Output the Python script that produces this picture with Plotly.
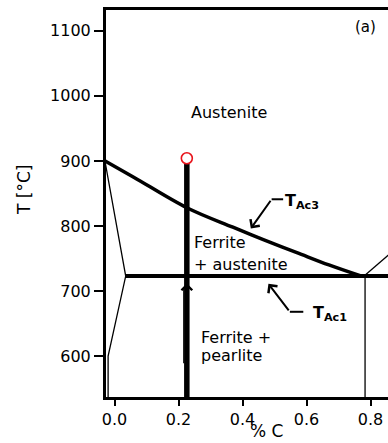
import plotly.graph_objects as go

# Ac3 boundary: carbon content (wt%) vs temperature (°C)
ac3_c = [-0.03, 0.06, 0.226, 0.37, 0.465, 0.57, 0.67, 0.77]
ac3_t = [900, 875, 828, 798, 779, 759, 740, 723]

# Ac1 eutectoid isotherm
ac1_c = [0.035, 0.86]
ac1_t = [723, 723]

# ferrite solubility boundary at low carbon
alpha_c = [-0.03, 0.035, -0.02, -0.02]
alpha_t = [900, 723, 600, 537]

# Acm boundary above the eutectoid point
acm_c = [0.78, 0.86]
acm_t = [723, 757]

# eutectoid composition below the isotherm
eut_c = [0.783, 0.783]
eut_t = [537, 723]

# steel composition path and its austenitising end point
steel_c = [0.226, 0.226]
steel_t = [537, 900]
start_c = [0.226]
start_t = [904]

# heating direction: thin stem beside the path, head on the path
heat_c = 0.2165
heat_t = [589, 706]
head_t = [700, 712]

# leader lines for the T_Ac3 and T_Ac1 labels
lead3_c = [0.527, 0.491, 0.426]
lead3_t = [841, 841, 796]
lead1_c = [0.59, 0.548, 0.481]
lead1_t = [668, 668, 711]

x_ticks = [0.0, 0.2, 0.4, 0.6, 0.8]
x_ticklabels = ["0.0", "0.2", "0.4", "0.6", "0.8"]
y_ticks = [600, 700, 800, 900, 1000, 1100]
y_ticklabels = ["600", "700", "800", "900", "1000", "1100"]

FONT = "DejaVu Sans"
W, H = 388, 443
ML, MR, MT, MB = 106, 0, 10, 46

fig = go.Figure()


def line(xs, ys, width, shape="linear"):
    fig.add_trace(go.Scatter(x=xs, y=ys, mode="lines",
                             line=dict(color="black", width=width, shape=shape),
                             showlegend=False, hoverinfo="skip"))


line(alpha_c, alpha_t, 1.3)
line(acm_c, acm_t, 1.3)
line(eut_c, eut_t, 1.3)
line(ac1_c, ac1_t, 4)
line(ac3_c, ac3_t, 3.5, shape="spline")
line(steel_c, steel_t, 5.5)
line([heat_c, heat_c], heat_t, 1.3)
line(lead3_c[:2], lead3_t[:2], 2)
line(lead1_c[:2], lead1_t[:2], 2)
fig.add_trace(go.Scatter(x=start_c, y=start_t, mode="markers",
                         marker=dict(symbol="circle", size=11, color="white",
                                     line=dict(color="#e8131b", width=1.6)),
                         showlegend=False, hoverinfo="skip"))

annotations = []


def arrow(x0, y0, x1, y1, width, size=1.1):
    annotations.append(dict(x=x1, y=y1, ax=x0, ay=y0, xref="x", yref="y",
                            axref="x", ayref="y", text="", showarrow=True,
                            arrowhead=4, arrowsize=size, arrowwidth=width,
                            arrowcolor="black"))


arrow(steel_c[0], head_t[0], steel_c[0], head_t[1], 1.3, size=1.6)
arrow(lead3_c[1], lead3_t[1], lead3_c[2], lead3_t[2], 2)
arrow(lead1_c[1], lead1_t[1], lead1_c[2], lead1_t[2], 2)


def text(x, y, s, size=16, xanchor="center", xref="x", yref="y", angle=0):
    annotations.append(dict(x=x, y=y, xref=xref, yref=yref, text=s,
                            showarrow=False, xanchor=xanchor, yanchor="middle",
                            textangle=angle,
                            font=dict(family=FONT, size=size, color="black")))


text(0.359, 975, "Austenite")
text(0.243, 775, "Ferrite", xanchor="left")
text(0.243, 741, "+ austenite", xanchor="left")
text(0.265, 629, "Ferrite +", xanchor="left")
text(0.265, 601, "pearlite", xanchor="left")
text(0.783, 1106, "(a)", size=15)
text(0.527, 838, "<b>T<sub>Ac3</sub></b>", size=16, xanchor="left")
text(0.613, 665, "<b>T<sub>Ac1</sub></b>", size=16, xanchor="left")

pw, ph = W - ML - MR, H - MT - MB
text((266 - ML) / pw, (H - MB - 431) / ph, "% C", size=17, xref="paper", yref="paper")
text((24 - ML) / pw, (H - MB - 190) / ph, "T [°C]", size=17, xref="paper", yref="paper", angle=-90)

fig.update_layout(
    width=W, height=H,
    margin=dict(l=ML, r=MR, t=MT, b=MB, pad=0),
    paper_bgcolor="white", plot_bgcolor="white",
    font=dict(family=FONT, size=16, color="black"),
    annotations=annotations,
    xaxis=dict(range=[-0.0266, 0.8547], showgrid=False, zeroline=False,
               showline=True, linecolor="black", linewidth=2.5, mirror=True,
               ticks="outside", ticklen=6, tickwidth=1.5, tickcolor="black",
               tickvals=x_ticks, ticktext=x_ticklabels,
               tickfont=dict(family=FONT, size=16)),
    yaxis=dict(range=[537, 1132], showgrid=False, zeroline=False,
               showline=True, linecolor="black", linewidth=3, mirror=False,
               ticks="outside", ticklen=9, tickwidth=1.5, tickcolor="black",
               tickvals=y_ticks, ticktext=y_ticklabels,
               tickfont=dict(family=FONT, size=16)),
)

fig.write_html("out.html")
